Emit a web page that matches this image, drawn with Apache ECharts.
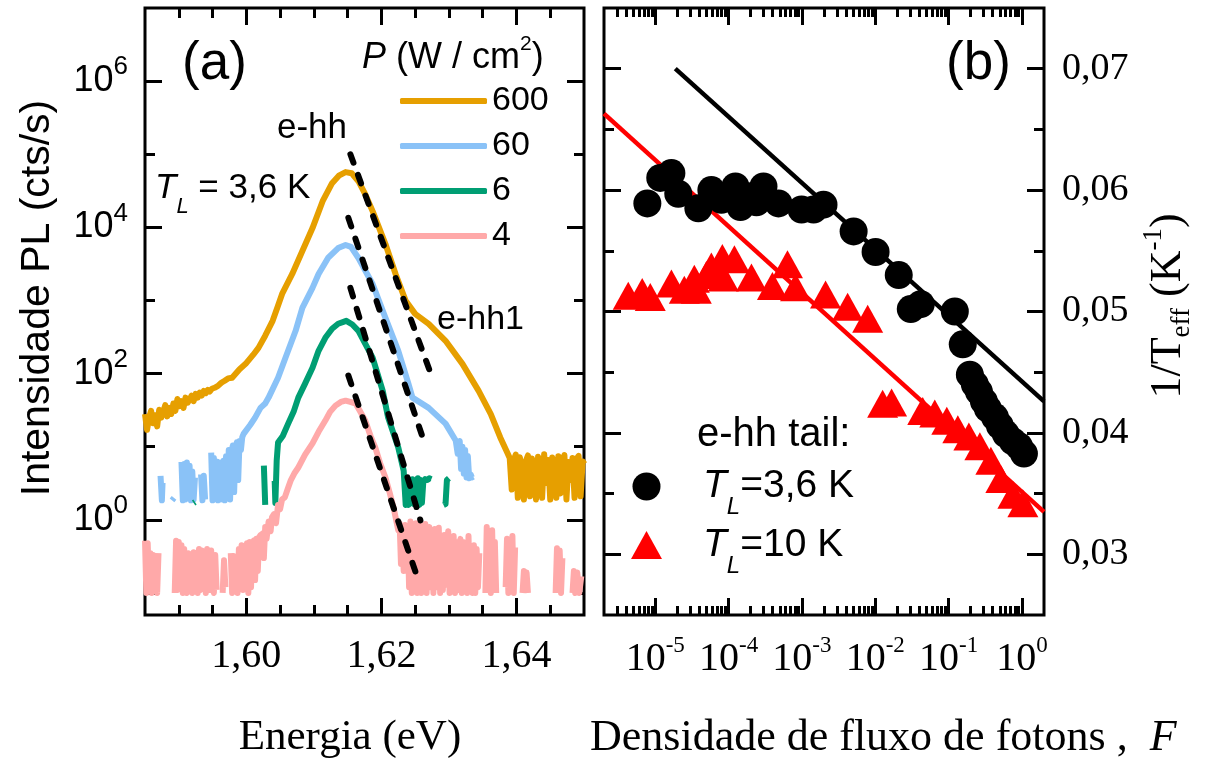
<!DOCTYPE html>
<html>
<head>
<meta charset="utf-8">
<title>PL e-hh</title>
<script src="https://cdn.jsdelivr.net/npm/echarts@6.0.0/dist/echarts.min.js"></script>
<style>
html, body { margin: 0; padding: 0; background: #ffffff; }
#chart { width: 1211px; height: 762px; }
</style>
</head>
<body>
<div id="chart"></div>
<script>
// ---------- Panel (a): PL spectra (energy in eV, intensity in cts/s) ----------
const energyTicks = [1.60, 1.62, 1.64];
const intensityTicks = [1, 1e2, 1e4, 1e6];
const intensityMinorTicks = [0.1, 10, 1e3, 1e5];
const powerLabels = ['600', '60', '6', '4'];

const pl600 = [
  [1.5850,28],[1.5853,17],[1.5856,25],[1.5859,31],[1.5862,21],[1.5865,27],[1.5868,19],[1.5871,32],
  [1.5874,25],[1.5877,30],[1.5880,37],[1.5883,26],[1.5886,34],[1.5889,28],[1.5892,39],[1.5895,31],
  [1.5898,45],[1.5901,36],[1.5904,42],[1.5907,34],[1.5910,47],[1.5913,40],[1.5916,44],[1.5919,50],
  [1.5922,42],[1.5925,53],[1.5928,47],[1.5931,55],[1.5934,50],[1.5937,58],[1.5940,54],[1.5943,60],
  [1.5946,57],[1.5949,62],[1.5953,64],[1.5958,68],[1.5963,75],[1.5968,80],[1.5973,86],[1.5979,88],
  [1.5990,115],[1.5999,136],[1.6010,180],[1.6018,225],[1.6028,330],[1.6039,527],[1.6046,800],
  [1.6053,1230],[1.6068,2306],[1.6083,4750],[1.6098,9780],[1.6113,22800],[1.6127,40200],[1.6137,51000],
  [1.6147,57000],[1.6156,55000],[1.6166,42800],[1.6176,28500],[1.6187,16700],[1.6206,5910],
  [1.6221,2306],[1.6236,988],[1.6250,656],[1.6270,480],[1.6295,281],[1.6320,136],[1.6344,58],
  [1.6362,28],[1.6376,13.4],[1.6387,8.1],
  [1.6390,7.0],[1.6393,2.6],[1.6396,6.6],[1.6399,7.8],[1.6402,2.0],[1.6405,7.2],[1.6408,5.0],
  [1.6411,1.9],[1.6414,6.4],[1.6417,7.6],[1.6420,2.1],[1.6423,6.9],[1.6426,4.4],[1.6429,1.9],
  [1.6432,7.3],[1.6435,6.1],[1.6438,2.0],[1.6441,7.9],[1.6444,3.2],[1.6447,6.6],[1.6450,1.9],
  [1.6453,7.1],[1.6456,5.6],[1.6459,2.0],[1.6462,7.4],[1.6465,2.3],[1.6468,6.5],[1.6471,7.7],
  [1.6474,1.9],[1.6477,6.2],[1.6480,3.5],[1.6483,7.0],[1.6486,2.0],[1.6489,6.8],[1.6492,7.5],
  [1.6495,2.1],[1.6498,6.3],[1.6501,5.8]
];

const pl60 = [
  [1.5873,4.0],[1.5875,1.85],[1.5876,3.2],[1.5878,null],
  [1.5890,1.85],[1.5893,2.0],[1.5894,null],
  [1.5904,6.2],[1.5906,1.85],[1.5908,5.8],[1.5910,1.9],[1.5912,6.1],[1.5914,2.1],[1.5916,5.5],
  [1.5918,1.85],[1.5920,4.6],[1.5922,1.9],[1.5924,3.8],[1.5925,null],
  [1.5933,4.2],[1.5935,1.85],[1.5937,4.0],[1.5939,1.9],[1.5940,null],
  [1.5948,8.3],[1.5950,1.85],[1.5952,7.0],[1.5954,2.0],[1.5956,6.3],[1.5958,1.85],[1.5960,6.1],
  [1.5962,1.9],[1.5964,5.6],[1.5966,6.4],[1.5968,1.85],[1.5970,7.4],[1.5972,2.0],[1.5974,9.0],
  [1.5976,1.9],[1.5978,8.4],[1.5980,10.4],[1.5982,2.4],[1.5984,9.6],[1.5986,11.5],[1.5988,3.5],
  [1.5990,12.0],[1.5992,9.0],[1.5994,13.5],[1.5996,15.0],
  [1.6006,20],[1.6013,25],[1.6021,34],[1.6028,39],[1.6033,47],[1.6047,88],[1.6058,165],[1.6073,385],
  [1.6083,792],[1.6098,1486],[1.6107,2306],[1.6121,3815],[1.6136,5220],[1.6147,5740],[1.6155,5400],
  [1.6166,3815],[1.6187,1684],[1.6206,579],[1.6225,205],[1.6240,72.9],[1.6246,47],[1.6270,34],
  [1.6295,20.7],[1.6310,12.2],
  [1.6313,8],[1.6316,12],[1.6318,5.0],[1.6320,10],[1.6322,4.3],[1.6324,9.0],[1.6326,3.8],
  [1.6328,7.5],[1.6330,3.7],[1.6332,4.2],[1.6334,3.8],[1.6336,3.9]
];

const pl6 = [
  [1.5922,1.7],[1.5924,1.75],[1.5925,null],
  [1.6026,5.5],[1.6028,1.6],[1.6029,null],
  [1.6042,3.4],[1.6043,1.7],[1.6045,6.5],[1.6047,11.4],[1.6054,14],[1.6062,20.7],[1.6070,30],
  [1.6077,47],[1.6087,73],[1.6098,120],[1.6107,205],[1.6117,309],[1.6127,410],[1.6136,480],
  [1.6148,527],[1.6157,470],[1.6166,385],[1.6187,165],[1.6202,58],[1.6210,25],[1.6225,9.75],
  [1.6233,4.7],
  [1.6236,1.6],[1.6238,3.7],[1.6240,1.6],[1.6242,3.5],[1.6244,1.7],[1.6246,3.6],[1.6248,1.65],
  [1.6250,3.4],[1.6252,1.7],[1.6254,3.7],[1.6256,1.6],[1.6258,3.5],[1.6260,1.7],[1.6262,3.25],
  [1.6265,3.6],[1.6268,3.5],[1.6271,3.7],[1.6274,3.6],[1.6276,null],
  [1.6292,1.6],[1.6295,1.65],[1.6297,3.5],[1.6300,3.7]
];

const pl4 = [
  [1.5850,0.52],[1.5852,0.10],[1.5854,0.48],[1.5856,0.12],[1.5858,0.35],[1.5860,0.10],[1.5862,0.33],
  [1.5864,0.11],[1.5866,0.30],[1.5868,0.10],[1.5870,0.35],[1.5871,null],
  [1.5894,0.10],[1.5896,0.52],[1.5898,0.11],[1.5900,0.50],[1.5902,0.12],[1.5904,0.45],[1.5906,0.10],
  [1.5908,0.40],[1.5910,0.11],[1.5912,0.10],[1.5914,0.35],[1.5916,0.12],[1.5918,0.33],[1.5920,0.10],
  [1.5922,0.36],[1.5924,0.13],[1.5926,0.30],[1.5928,0.10],[1.5930,0.40],[1.5932,0.11],[1.5934,0.38],
  [1.5936,0.12],[1.5938,0.35],[1.5940,0.10],[1.5942,0.40],[1.5944,0.36],[1.5946,0.11],[1.5948,0.38],
  [1.5950,0.12],[1.5952,0.10],[1.5954,0.33],[1.5956,0.11],[1.5957,null],
  [1.5965,0.10],[1.5967,0.28],[1.5969,0.12],[1.5970,null],
  [1.5977,0.35],[1.5979,0.10],[1.5981,0.32],[1.5983,0.11],[1.5985,0.30],[1.5987,0.10],[1.5989,0.40],
  [1.5991,0.12],[1.5993,0.45],[1.5995,0.11],[1.5997,0.42],[1.5999,0.13],[1.6001,0.48],[1.6003,0.10],
  [1.6005,0.50],[1.6007,0.12],[1.6009,0.46],[1.6011,0.52],[1.6013,0.15],[1.6015,0.55],[1.6017,0.20],
  [1.6019,0.58],[1.6021,0.62],
  [1.6024,0.65],[1.6026,0.30],[1.6028,0.80],[1.6030,0.55],[1.6033,0.95],[1.6036,0.70],[1.6038,1.08],
  [1.6041,1.2],[1.6044,0.9],[1.6047,1.6],[1.6050,1.4],[1.6053,1.9],[1.6057,2.03],[1.6061,2.6],
  [1.6066,3.5],[1.6071,4.3],[1.6077,5.2],[1.6087,7.8],[1.6098,11.1],[1.6107,16],[1.6117,22.8],
  [1.6124,30],[1.6132,36.5],[1.6140,41],[1.6147,42.7],[1.6154,41],[1.6162,38.8],[1.6168,31],
  [1.6176,22.8],[1.6184,14],[1.6191,9.75],[1.6198,6],[1.6206,3.8],[1.6212,2.4],[1.6218,1.48],
  [1.6225,0.72],
  [1.6227,0.9],[1.6229,0.25],[1.6231,0.6],[1.6233,0.2],[1.6235,0.85],[1.6237,0.3],[1.6239,0.8],
  [1.6241,0.12],[1.6243,0.95],[1.6245,0.10],[1.6247,0.72],[1.6249,0.12],[1.6251,0.9],[1.6253,0.10],
  [1.6255,0.65],[1.6257,0.85],[1.6259,0.10],[1.6261,0.72],[1.6263,0.11],[1.6265,0.88],[1.6267,0.10],
  [1.6269,0.55],[1.6271,0.80],[1.6273,0.12],[1.6275,0.62],[1.6277,0.10],[1.6279,0.75],[1.6281,0.12],
  [1.6283,0.50],[1.6285,0.78],[1.6287,0.10],[1.6289,0.55],[1.6291,0.11],[1.6293,0.62],[1.6295,0.13],
  [1.6297,0.48],[1.6299,0.70],[1.6301,0.10],[1.6303,0.45],[1.6305,0.12],[1.6307,0.60],[1.6309,0.10],
  [1.6311,0.50],[1.6313,0.11],[1.6315,0.42],[1.6317,0.55],[1.6319,0.10],[1.6321,0.50],[1.6323,0.12],
  [1.6325,0.42],[1.6327,0.10],[1.6329,0.60],[1.6331,0.11],[1.6333,0.38],[1.6335,0.10],[1.6337,0.45],
  [1.6339,0.10],[1.6341,0.40],[1.6343,0.12],[1.6345,0.35],[1.6347,null],
  [1.6354,0.10],[1.6356,0.80],[1.6358,0.12],[1.6360,0.55],[1.6362,0.10],[1.6364,0.72],[1.6366,0.11],
  [1.6368,0.50],[1.6370,0.10],[1.6371,null],
  [1.6384,0.12],[1.6386,0.55],[1.6388,0.10],[1.6390,0.45],[1.6392,0.11],[1.6394,0.60],[1.6396,0.10],
  [1.6398,0.42],[1.6399,null],
  [1.6409,0.10],[1.6411,0.20],[1.6413,0.11],[1.6415,0.19],[1.6417,0.10],[1.6418,null],
  [1.6458,0.10],[1.6460,0.41],[1.6462,0.11],[1.6464,0.38],[1.6466,0.10],[1.6468,0.30],[1.6469,null],
  [1.6483,0.10],[1.6485,0.20],[1.6487,0.10],[1.6490,0.19],[1.6493,0.10],[1.6496,0.17]
];

// exponential e-hh tail fits (straight lines on the log scale)
const fitEhh600 = [[1.61541, 1.0e5], [1.62726, 103]];
const fitEhh60 = [[1.61511, 1.35e4], [1.62652, 10.4]];
const fitEhh6 = [[1.61541, 1493], [1.62578, 0.985]];
const fitEhh4 = [[1.61511, 94], [1.62533, 0.164]];

// ---------- Panel (b): 1/T_eff versus photon flux density ----------
const fluxTicks = [1e-5, 1e-4, 1e-3, 1e-2, 1e-1, 1];
const invTempTicks = [0.03, 0.04, 0.05, 0.06, 0.07];
const invTempMinorTicks = [0.035, 0.045, 0.055, 0.065];

const tail36K = [
  [7.8e-6,0.0589],[1.17e-5,0.0610],[1.66e-5,0.0614],[2.06e-5,0.0597],[3.87e-5,0.0585],[5.82e-5,0.0600],
  [7.97e-5,0.0592],[1.24e-4,0.0603],[1.45e-4,0.0586],[1.99e-4,0.0595],[2.40e-4,0.0590],[2.99e-4,0.0603],
  [4.79e-4,0.0589],[9.88e-4,0.0584],[1.44e-3,0.0584],[1.97e-3,0.0588],[5.07e-3,0.0566],[1.01e-2,0.0549],
  [2.09e-2,0.0530],[3.05e-2,0.0502],[4.17e-2,0.0506],[0.1216,0.0500],[0.156,0.0473],[0.195,0.0448],
  [0.228,0.0440],[0.259,0.0434],[0.303,0.0426],[0.343,0.0420],[0.428,0.0413],[0.500,0.0406],
  [0.604,0.0399],[0.753,0.0393],[0.910,0.0389],[1.065,0.0383]
];
const tail10K = [
  [4.28e-6,0.0513],[6.64e-6,0.0516],[8.55e-6,0.0512],[1.66e-5,0.0523],[2.49e-5,0.0518],[3.41e-5,0.0527],
  [3.63e-5,0.0518],[4.98e-5,0.0530],[5.82e-5,0.0537],[8.22e-5,0.0544],[8.49e-5,0.0528],[1.20e-4,0.0543],
  [2.05e-4,0.0528],[3.96e-4,0.0521],[6.35e-4,0.0539],[8.18e-4,0.0520],[2.10e-3,0.0514],[4.20e-3,0.0504],
  [7.88e-3,0.0494],[1.26e-2,0.0424],[1.67e-2,0.0425],[4.44e-2,0.0418],[6.48e-2,0.0416],[9.45e-2,0.0410],
  [0.1336,0.0403],[0.189,0.0397],[0.267,0.0389],[0.377,0.0377],[0.516,0.0362],[0.753,0.0349],[1.03,0.0342]
];
const fit36K = [[1.875e-5, 0.0700], [2.0, 0.0426]];
const fit10K = [[2.0e-6, 0.0663], [2.0, 0.0335]];

// ---------- styling ----------
const SANS = '"Liberation Sans", Arial, sans-serif';
const SERIF = '"Liberation Serif", "Times New Roman", serif';
const specColors = ['#E69F00', '#8AC2F7', '#009E73', '#FFA9A9'];
const tickLine = { color: '#000', width: 3 };

// minor tick positions
const energyMinorTicks = [];
for (let k = 1; k < 13; k++) {
  const v = Math.round((1.585 + 0.005 * k) * 1000) / 1000;
  if (!energyTicks.some(t => Math.abs(t - v) < 1e-9)) energyMinorTicks.push(v);
}
const fluxMinorTicks = [];
for (let e = -6; e <= 0; e++) {
  for (let m = 2; m <= 9; m++) {
    const v = m * Math.pow(10, e);
    if (v > 2.01e-6 && v < 1.99) fluxMinorTicks.push(v);
  }
}

function tickAxis(gridIndex, type, min, max, position, values, len, label) {
  const ax = {
    gridIndex: gridIndex, type: type, min: min, max: max, position: position,
    axisLine: { show: false, onZero: false },
    splitLine: { show: false },
    minorTick: { show: false },
    axisTick: { show: true, inside: true, length: len, lineStyle: tickLine, customValues: values },
    axisLabel: label ? Object.assign({ show: true, customValues: values }, label) : { show: false },
    axisPointer: { show: false },
    z: 5
  };
  if (type === 'log') ax.logBase = 10;
  return ax;
}

const powLabel = v => '{b|10}{p|' + Math.round(Math.log10(v)) + '}';

const xAxes = [
  tickAxis(0, 'value', 1.585, 1.65, 'bottom', energyTicks, 17, {
    formatter: v => v.toFixed(2).replace('.', ','), fontFamily: SERIF, fontSize: 40, color: '#000', margin: 21
  }),
  tickAxis(0, 'value', 1.585, 1.65, 'bottom', energyMinorTicks, 10, null),
  tickAxis(0, 'value', 1.585, 1.65, 'top', energyTicks, 17, null),
  tickAxis(0, 'value', 1.585, 1.65, 'top', energyMinorTicks, 10, null),
  tickAxis(1, 'log', 2e-6, 2, 'bottom', fluxTicks, 17, {
    formatter: powLabel, margin: 19,
    rich: {
      b: { fontFamily: SERIF, fontSize: 40, color: '#000', verticalAlign: 'middle' },
      p: { fontFamily: SERIF, fontSize: 23, color: '#000', verticalAlign: 'middle', padding: [0, 0, 28, 0] }
    }
  }),
  tickAxis(1, 'log', 2e-6, 2, 'bottom', fluxMinorTicks, 9, null),
  tickAxis(1, 'log', 2e-6, 2, 'top', fluxTicks, 17, null),
  tickAxis(1, 'log', 2e-6, 2, 'top', fluxMinorTicks, 9, null)
];

const yAxes = [
  tickAxis(0, 'log', 0.05, 1e7, 'left', intensityTicks, 17, {
    formatter: powLabel, margin: 17,
    rich: {
      b: { fontFamily: SANS, fontSize: 36, color: '#000', verticalAlign: 'middle' },
      p: { fontFamily: SANS, fontSize: 26, color: '#000', verticalAlign: 'middle', padding: [0, 0, 28, 0] }
    }
  }),
  tickAxis(0, 'log', 0.05, 1e7, 'left', intensityMinorTicks, 10, null),
  tickAxis(0, 'log', 0.05, 1e7, 'right', intensityTicks, 17, null),
  tickAxis(0, 'log', 0.05, 1e7, 'right', intensityMinorTicks, 10, null),
  tickAxis(1, 'value', 0.025, 0.075, 'right', invTempTicks, 17, {
    formatter: v => v.toFixed(2).replace('.', ','), fontFamily: SERIF, fontSize: 38, color: '#000', margin: 18
  }),
  tickAxis(1, 'value', 0.025, 0.075, 'right', invTempMinorTicks, 10, null),
  tickAxis(1, 'value', 0.025, 0.075, 'left', invTempTicks, 17, null),
  tickAxis(1, 'value', 0.025, 0.075, 'left', invTempMinorTicks, 10, null)
];

const series = [];
[pl600, pl60, pl6, pl4].forEach((d, i) => {
  series.push({
    name: powerLabels[i], type: 'line', xAxisIndex: 0, yAxisIndex: 0, data: d,
    symbol: 'none', showSymbol: false, connectNulls: false, silent: true,
    lineStyle: { color: specColors[i], width: 6, join: 'round' },
    itemStyle: { color: specColors[i] }, z: 2 + i
  });
});
[fitEhh600, fitEhh60, fitEhh6, fitEhh4].forEach(d => {
  series.push({
    type: 'line', xAxisIndex: 0, yAxisIndex: 0, data: d, symbol: 'none', silent: true,
    lineStyle: { color: '#000', width: 6, type: [9, 13], cap: 'round' }, z: 10
  });
});
series.push({
  type: 'line', xAxisIndex: 4, yAxisIndex: 4, data: fit10K, symbol: 'none', silent: true,
  lineStyle: { color: '#FF0000', width: 4.5 }, z: 2
});
series.push({
  type: 'line', xAxisIndex: 4, yAxisIndex: 4, data: fit36K, symbol: 'none', silent: true,
  lineStyle: { color: '#000', width: 4.5 }, z: 2
});
series.push({
  name: '3,6 K', type: 'scatter', xAxisIndex: 4, yAxisIndex: 4, data: tail36K,
  symbol: 'circle', symbolSize: 28, itemStyle: { color: '#000', opacity: 1 }, silent: true, z: 3
});
series.push({
  name: '10 K', type: 'scatter', xAxisIndex: 4, yAxisIndex: 4, data: tail10K,
  symbol: 'triangle', symbolSize: [31, 28], itemStyle: { color: '#FF0000', opacity: 1 }, silent: true, z: 4
});

const richSub = {
  sp: { width: 36 },
  i: { fontFamily: SANS, fontSize: 39, fontStyle: 'italic', color: '#000', verticalAlign: 'middle' },
  s: { fontFamily: SANS, fontSize: 24, fontStyle: 'italic', color: '#000', verticalAlign: 'middle', padding: [42, 0, 0, 0] },
  n: { fontFamily: SANS, fontSize: 39, color: '#000', verticalAlign: 'middle' }
};

const option = {
  animation: false,
  backgroundColor: '#ffffff',
  grid: [
    { left: 145, top: 8, width: 439, height: 607, show: true, borderColor: '#000', borderWidth: 3,
      backgroundColor: 'transparent', containLabel: false, outerBoundsMode: 'none' },
    { left: 604, top: 8, width: 440, height: 607, show: true, borderColor: '#000', borderWidth: 3,
      backgroundColor: 'transparent', containLabel: false, outerBoundsMode: 'none' }
  ],
  xAxis: xAxes,
  yAxis: yAxes,
  legend: [
    {
      data: powerLabels, orient: 'vertical', left: 400, top: 84, padding: 0,
      itemWidth: 87, itemHeight: 6, itemGap: 11, icon: 'roundRect', selectedMode: false,
      textStyle: { fontFamily: SANS, fontSize: 34, color: '#000', lineHeight: 34 }
    },
    {
      data: [{ name: '3,6 K', icon: 'circle' }, { name: '10 K', icon: 'triangle' }],
      orient: 'vertical', left: 631, top: 467, padding: 0,
      itemWidth: 31, itemHeight: 28, itemGap: 6, selectedMode: false,
      formatter: n => '{sp|}{i|T}{s|L}{n|=' + n + '}',
      textStyle: { rich: richSub }
    }
  ],
  graphic: [
    { type: 'text', x: 38, y: 298, rotation: Math.PI / 2,
      style: { text: 'Intensidade PL (cts/s)', fontFamily: SANS, fontSize: 41, fill: '#000', align: 'center', verticalAlign: 'middle' } },
    { type: 'text', x: 350, y: 738,
      style: { text: 'Energia (eV)', fontFamily: SERIF, fontSize: 43, fill: '#000', align: 'center', verticalAlign: 'middle' } },
    { type: 'text', x: 590, y: 738,
      style: { text: '{n|Densidade de fluxo de fotons ,  }{i|F}', align: 'left', verticalAlign: 'middle',
        rich: {
          n: { fontFamily: SERIF, fontSize: 44, fill: '#000' },
          i: { fontFamily: SERIF, fontSize: 44, fontStyle: 'italic', fill: '#000' }
        } } },
    { type: 'text', x: 1168, y: 306, rotation: Math.PI / 2,
      style: { text: '{n|1/T}{s|eff}{n| (K}{p|-1}{n|)}', align: 'center', verticalAlign: 'middle',
        rich: {
          n: { fontFamily: SERIF, fontSize: 44, fill: '#000', verticalAlign: 'middle' },
          s: { fontFamily: SERIF, fontSize: 27, fill: '#000', verticalAlign: 'middle', padding: [28, 0, 0, 0] },
          p: { fontFamily: SERIF, fontSize: 27, fill: '#000', verticalAlign: 'middle', padding: [0, 0, 28, 0] }
        } } },
    { type: 'text', x: 182, y: 64,
      style: { text: '(a)', fontFamily: SANS, fontSize: 53, fill: '#000', align: 'left', verticalAlign: 'middle' } },
    { type: 'text', x: 946, y: 64,
      style: { text: '(b)', fontFamily: SANS, fontSize: 53, fill: '#000', align: 'left', verticalAlign: 'middle' } },
    { type: 'text', x: 362, y: 58,
      style: { text: '{i|P}{n| (W / cm}{p|2}{n|)}', align: 'left', verticalAlign: 'middle',
        rich: {
          i: { fontFamily: SANS, fontSize: 36, fontStyle: 'italic', fill: '#000', verticalAlign: 'middle' },
          n: { fontFamily: SANS, fontSize: 36, fill: '#000', verticalAlign: 'middle' },
          p: { fontFamily: SANS, fontSize: 21, fill: '#000', verticalAlign: 'middle', padding: [0, 0, 27, 0] }
        } } },
    { type: 'text', x: 155, y: 188,
      style: { text: '{i|T}{s|L}{n| = 3,6 K}', align: 'left', verticalAlign: 'middle',
        rich: {
          i: { fontFamily: SANS, fontSize: 35, fontStyle: 'italic', fill: '#000', verticalAlign: 'middle' },
          s: { fontFamily: SANS, fontSize: 22, fontStyle: 'italic', fill: '#000', verticalAlign: 'middle', padding: [38, 0, 0, 0] },
          n: { fontFamily: SANS, fontSize: 35, fill: '#000', verticalAlign: 'middle' }
        } } },
    { type: 'text', x: 277, y: 128,
      style: { text: 'e-hh', fontFamily: SANS, fontSize: 35, fill: '#000', align: 'left', verticalAlign: 'middle' } },
    { type: 'text', x: 437, y: 320,
      style: { text: 'e-hh1', fontFamily: SANS, fontSize: 34, fill: '#000', align: 'left', verticalAlign: 'middle' } },
    { type: 'text', x: 697, y: 435,
      style: { text: 'e-hh tail:', fontFamily: SANS, fontSize: 40, fill: '#000', align: 'left', verticalAlign: 'middle' } }
  ],
  series: series
};

const chart = echarts.init(document.getElementById('chart'), null, { renderer: 'canvas' });
chart.setOption(option);
</script>
</body>
</html>
